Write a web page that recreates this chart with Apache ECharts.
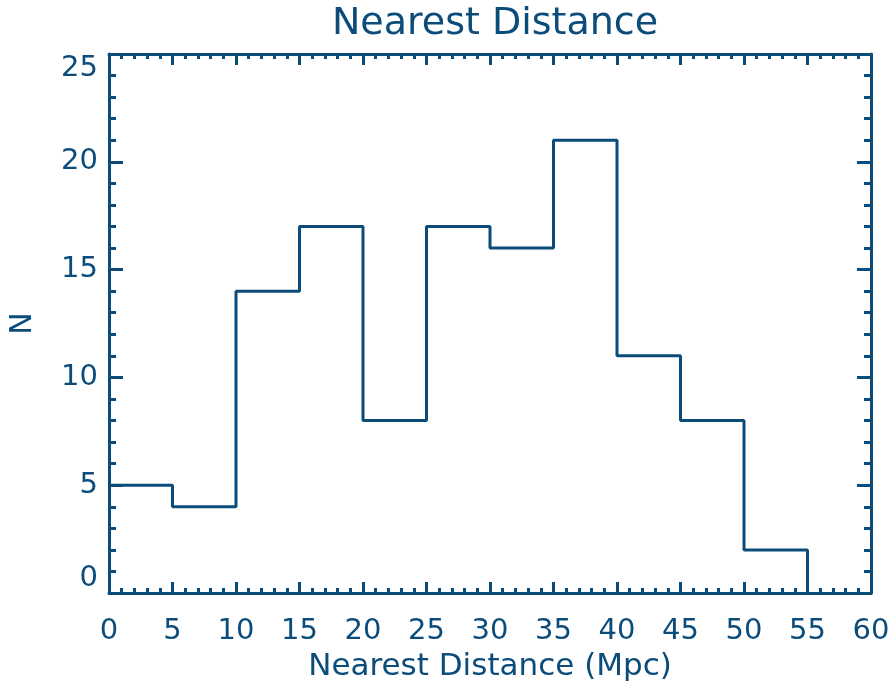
<!DOCTYPE html>
<html>
<head>
<meta charset="utf-8">
<script src="https://cdn.jsdelivr.net/npm/echarts@6/dist/echarts.min.js"></script>
<style>
  html, body { margin: 0; padding: 0; background: #fff; }
  #chart { width: 892px; height: 684px; }
</style>
</head>
<body>
<div id="chart"></div>
<script>
// histogram bins: left edges (Mpc) and counts
const binEdges = [0, 5, 10, 15, 20, 25, 30, 35, 40, 45, 50, 55];
const counts = [5, 4, 14, 17, 8, 17, 16, 21, 11, 8, 2, 0];

const ink = '#0b4c7a';
const font = 'DejaVu Sans';

const chart = echarts.init(document.getElementById('chart'));

const xBase = {
  type: 'value',
  min: 0,
  max: 60,
  interval: 5,
  axisLine: { show: true, onZero: false, lineStyle: { color: ink, width: 3 } },
  axisTick: { show: true, inside: true, length: 11, lineStyle: { color: ink, width: 3 } },
  minorTick: { show: true, splitNumber: 5, length: 5, lineStyle: { color: ink, width: 3 } },
  splitLine: { show: false }
};
const yBase = {
  type: 'value',
  min: 0,
  max: 25,
  interval: 5,
  axisLine: { show: true, onZero: false, lineStyle: { color: ink, width: 3 } },
  axisTick: { show: true, inside: true, length: 14, lineStyle: { color: ink, width: 3 } },
  minorTick: { show: true, splitNumber: 5, length: 7, lineStyle: { color: ink, width: 3 } },
  splitLine: { show: false }
};

const option = {
  animation: false,
  title: {
    text: 'Nearest Distance',
    left: 490,
    textAlign: 'center',
    top: 0,
    textStyle: { color: ink, fontFamily: font, fontWeight: 'normal', fontSize: 38 }
  },
  grid: { left: 109, right: 21, top: 54, bottom: 91, outerBoundsMode: 'none' },
  xAxis: [
    Object.assign({}, xBase, {
      position: 'bottom',
      name: 'Nearest Distance (Mpc)',
      nameLocation: 'middle',
      nameGap: 58,
      nameTextStyle: { color: ink, fontFamily: font, fontSize: 31 },
      axisLabel: { color: ink, fontFamily: font, fontSize: 29, margin: 24 }
    }),
    Object.assign({}, xBase, { position: 'top', axisLabel: { show: false } })
  ],
  yAxis: [
    Object.assign({}, yBase, {
      position: 'left',
      name: 'N',
      nameLocation: 'middle',
      nameGap: 71,
      nameTextStyle: { color: ink, fontFamily: font, fontSize: 30 },
      axisLabel: {
        color: ink, fontFamily: font, fontSize: 29, margin: 11,
        verticalAlignMinLabel: 'bottom', verticalAlignMaxLabel: 'top'
      }
    }),
    Object.assign({}, yBase, { position: 'right', axisLabel: { show: false } })
  ],
  series: [
    {
      type: 'line',
      step: 'end',
      xAxisIndex: 0,
      yAxisIndex: 0,
      data: binEdges.map((x, i) => [x, counts[i]]),
      showSymbol: false,
      lineStyle: { color: ink, width: 3 },
      clip: false
    }
  ]
};

chart.setOption(option);
</script>
</body>
</html>
